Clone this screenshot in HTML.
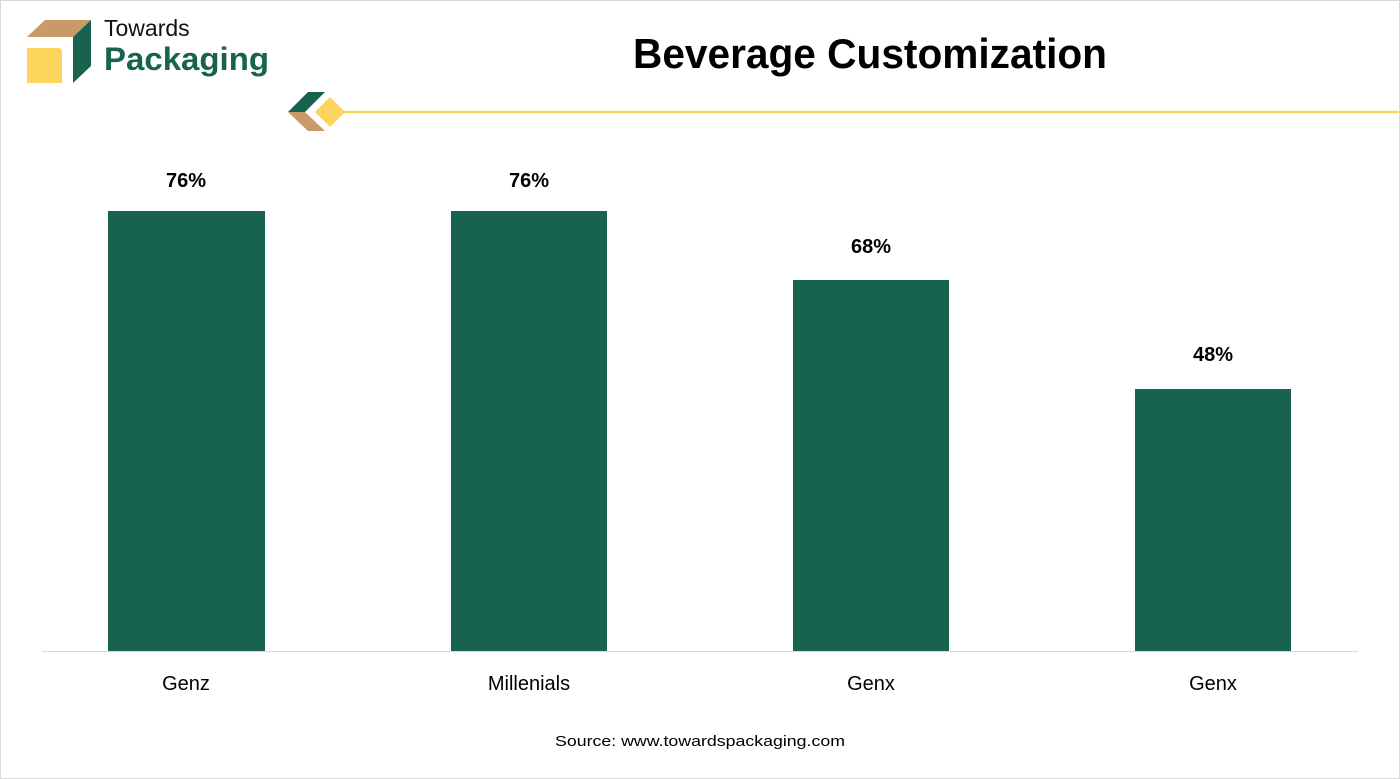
<!DOCTYPE html>
<html><head><meta charset="utf-8"><style>
html,body{margin:0;padding:0;background:#fff;}
svg{display:block;}
text{font-family:"Liberation Sans",sans-serif;}
</style></head><body>
<svg width="1400" height="779" viewBox="0 0 1400 779" xmlns="http://www.w3.org/2000/svg">
<rect x="0.5" y="0.5" width="1399" height="778" fill="#fff" stroke="#d9d9d9"/>
<polygon points="27,37 45,20 91,20 73,37" fill="#c9996a"/>
<polygon points="73,37 91,20 91,66 73,83" fill="#17634f"/>
<path d="M27,48 H58 Q62,48 62,52 V83 H27 Z" fill="#fdd55c"/>
<text x="104" y="36" font-size="23" fill="#111">Towards</text>
<text x="104" y="70" font-size="32" font-weight="bold" fill="#17634f" textLength="165" lengthAdjust="spacingAndGlyphs">Packaging</text>
<text x="633" y="68" font-size="42" font-weight="bold" fill="#000" textLength="474" lengthAdjust="spacingAndGlyphs">Beverage Customization</text>
<line x1="340" y1="112" x2="1400" y2="112" stroke="#fdd55c" stroke-width="2.5"/>
<polygon points="288,112 308,92 325,92 305,112" fill="#17634f"/>
<polygon points="288,112 305,112 325,131 308,131" fill="#c9996a"/>
<polygon points="330,97 345,112 330,127 315,112" fill="#fdd55c"/>
<g fill="#17634f">
<rect x="108" y="211" width="157" height="440"/>
<rect x="451" y="211" width="156" height="440"/>
<rect x="793" y="280" width="156" height="371"/>
<rect x="1135" y="389" width="156" height="262"/>
</g>
<line x1="42" y1="651.5" x2="1358" y2="651.5" stroke="#d9d9d9" stroke-width="1"/>
<g font-size="20" font-weight="bold" fill="#000" text-anchor="middle">
<text x="186" y="187">76%</text>
<text x="529" y="187">76%</text>
<text x="871" y="253">68%</text>
<text x="1213" y="361">48%</text>
</g>
<g font-size="20" fill="#000" text-anchor="middle">
<text x="186" y="690">Genz</text>
<text x="529" y="690">Millenials</text>
<text x="871" y="690">Genx</text>
<text x="1213" y="690">Genx</text>
</g>
<text x="555" y="746" font-size="15" fill="#000" textLength="290" lengthAdjust="spacingAndGlyphs">Source: www.towardspackaging.com</text>
</svg>
</body></html>
